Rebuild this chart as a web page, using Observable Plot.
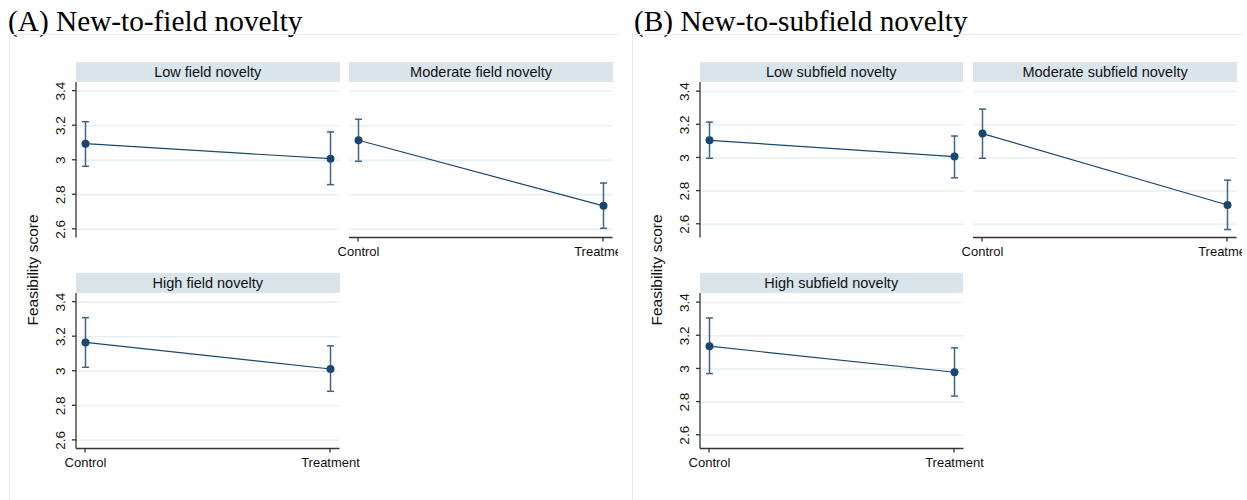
<!DOCTYPE html>
<html><head><meta charset="utf-8">
<script src="https://cdn.jsdelivr.net/npm/d3@7"></script>
<script src="https://cdn.jsdelivr.net/npm/@observablehq/plot@0.6"></script>
<style>
body{margin:0;background:#fff;}
#root{position:relative;width:1247px;height:500px;overflow:hidden;font-family:"Liberation Sans",Arial,sans-serif;}
.title{position:absolute;font-family:"Liberation Serif","Times New Roman",serif;font-size:29.3px;line-height:29px;color:#000;white-space:nowrap;}
.box{position:absolute;border-left:1px solid #e3ecef;border-top:1px solid #e3ecef;}
.clip{position:absolute;left:0;top:0;height:500px;overflow:hidden;}
.strip{position:absolute;height:20px;background:#d9e5eb;font-size:14.5px;line-height:20px;text-align:center;color:#111;white-space:nowrap;overflow:hidden;}
.ytitle{position:absolute;font-size:15.5px;line-height:16px;color:#111;white-space:nowrap;transform:translate(-50%,-50%) rotate(-90deg);}
.panel{position:absolute;}
.panel svg{display:block;max-width:none !important;}
</style></head><body><div id="root"></div>
<script>
// ---- data ----
const groups = ["Control", "Treatment"];
const yTicks = [2.6, 2.8, 3, 3.2, 3.4];

const fieldTitle = "(A) New-to-field novelty";
const fieldPanels = ["Low field novelty", "Moderate field novelty", "High field novelty"];
const fieldMean = [[3.096, 3.009], [3.116, 2.736], [3.167, 3.013]];
const fieldLo   = [[2.965, 2.859], [2.994, 2.606], [3.023, 2.884]];
const fieldHi   = [[3.223, 3.164], [3.237, 2.868], [3.310, 3.147]];

const subTitle = "(B) New-to-subfield novelty";
const subPanels = ["Low subfield novelty", "Moderate subfield novelty", "High subfield novelty"];
const subMean = [[3.106, 3.008], [3.147, 2.716], [3.137, 2.980]];
const subLo   = [[2.998, 2.880], [2.998, 2.568], [2.972, 2.836]];
const subHi   = [[3.216, 3.132], [3.294, 2.866], [3.307, 3.127]];

const yLabel = "Feasibility score";
const fieldDomain = [2.55, 3.45];
const subDomain = [2.517, 3.455];

// ---- style ----
const lineColor = "#1a476f";
const ciColor = "#3f648a";
const axisColor = "#333333";
const gridColor = "#e6eff2";
const font = "'Liberation Sans', Arial, sans-serif";

const root = document.getElementById("root");
function el(cls, css, text, parent = root) {
  const d = document.createElement("div");
  d.className = cls;
  Object.assign(d.style, css);
  if (text != null) d.textContent = text;
  parent.appendChild(d);
  return d;
}

const capSymbol = {draw(ctx, size) { const r = Math.sqrt(size / Math.PI); ctx.moveTo(-r, 0); ctx.lineTo(r, 0); }};
const fmt = d => (d === 3 ? "3" : d.toFixed(1));

const axisMark = (left, bottom) => (index, scales, values, dims) => {
  const g = d3.create("svg:g").attr("stroke", axisColor).attr("stroke-width", 1.3).attr("fill", "none");
  const x0 = dims.marginLeft, x1 = dims.width - dims.marginRight;
  const y0 = dims.marginTop, y1 = dims.height - dims.marginBottom;
  if (left) {
    g.append("line").attr("x1", x0).attr("x2", x0).attr("y1", y0).attr("y2", y1);
    for (const t of yTicks) g.append("line").attr("x1", x0 - 4).attr("x2", x0).attr("y1", scales.y(t)).attr("y2", scales.y(t));
  }
  if (bottom) {
    g.append("line").attr("x1", x0).attr("x2", x1).attr("y1", y1).attr("y2", y1);
    for (const c of groups) g.append("line").attr("x1", scales.x(c)).attr("x2", scales.x(c)).attr("y1", y1).attr("y2", y1 + 4);
  }
  return g.node();
};

function panel(parent, {name, mean, lo, hi, domain, fx, fy, fw, fh, left, bottom}) {
  const rows = groups.map((g, i) => ({group: g, mean: mean[i], lo: lo[i], hi: hi[i]}));
  const ML = 30, MR = 40, MT = 0, MB = 28;
  const marks = [
    Plot.gridY(yTicks, {stroke: gridColor, strokeOpacity: 1, strokeWidth: 1.5}),
    axisMark(left, bottom),
    left ? Plot.text(yTicks, {y: d => d, text: fmt, frameAnchor: "left", textAnchor: "middle", lineAnchor: "middle", dx: -16, rotate: -90, fontSize: 13.5, fill: "#111"}) : null,
    bottom ? Plot.text(groups, {x: d => d, text: d => d, frameAnchor: "bottom", textAnchor: "middle", lineAnchor: "middle", dy: 14, fontSize: 13, fill: "#111"}) : null,
    Plot.ruleX(rows, {x: "group", y1: "lo", y2: "hi", stroke: ciColor, strokeWidth: 1.5}),
    Plot.dot(rows, {x: "group", y: "lo", symbol: capSymbol, r: 3.5, stroke: ciColor, fill: "none", strokeWidth: 1.5}),
    Plot.dot(rows, {x: "group", y: "hi", symbol: capSymbol, r: 3.5, stroke: ciColor, fill: "none", strokeWidth: 1.5}),
    Plot.line(rows, {x: "group", y: "mean", stroke: lineColor, strokeWidth: 1.2}),
    Plot.dot(rows, {x: "group", y: "mean", r: 4, fill: lineColor, stroke: "none"})
  ].filter(m => m != null);
  const W = fw + ML + MR, H = fh + MT + MB;
  const chart = Plot.plot({
    width: W, height: H,
    marginLeft: ML, marginRight: MR, marginTop: MT, marginBottom: MB,
    x: {type: "point", domain: groups, padding: 0, insetLeft: 9, insetRight: 9, axis: null},
    y: {domain, axis: null},
    style: {fontFamily: font, fontSize: "13px", color: "#111", background: "transparent", overflow: "visible"},
    marks
  });
  const wrap = el("panel", {left: (fx - ML) + "px", top: (fy - MT) + "px", width: W + "px", height: H + "px"}, null, parent);
  wrap.appendChild(chart);
  el("strip", {left: fx + "px", top: (fy - 20) + "px", width: fw + "px"}, name, parent);
}

function figure({title, titleX, boxX, boxW, panels, mean, lo, hi, domain, cols, ytitleX}) {
  el("title", {left: titleX + "px", top: "7px"}, title);
  el("box", {left: boxX + "px", top: "34px", width: boxW + "px", height: "480px"});
  const clip = el("clip", {width: (boxX + boxW) + "px"});
  const fw = 263.5, fh = 155.5;
  const pos = [[cols[0], 81.5, true, false], [cols[1], 81.5, false, true], [cols[0], 293.3, true, true]];
  panels.forEach((name, i) => {
    const [fx, fy, left, bottom] = pos[i];
    panel(clip, {name, mean: mean[i], lo: lo[i], hi: hi[i], domain, fx, fy, fw, fh, left, bottom});
  });
  el("ytitle", {left: ytitleX + "px", top: "270px"}, yLabel);
}

figure({title: fieldTitle, titleX: 8, boxX: 9, boxW: 609, panels: fieldPanels, mean: fieldMean, lo: fieldLo, hi: fieldHi,
  domain: fieldDomain, cols: [76, 349.3], ytitleX: 33});
figure({title: subTitle, titleX: 634, boxX: 632, boxW: 610, panels: subPanels, mean: subMean, lo: subLo, hi: subHi,
  domain: subDomain, cols: [699.5, 973.3], ytitleX: 657});
</script>
</body></html>
